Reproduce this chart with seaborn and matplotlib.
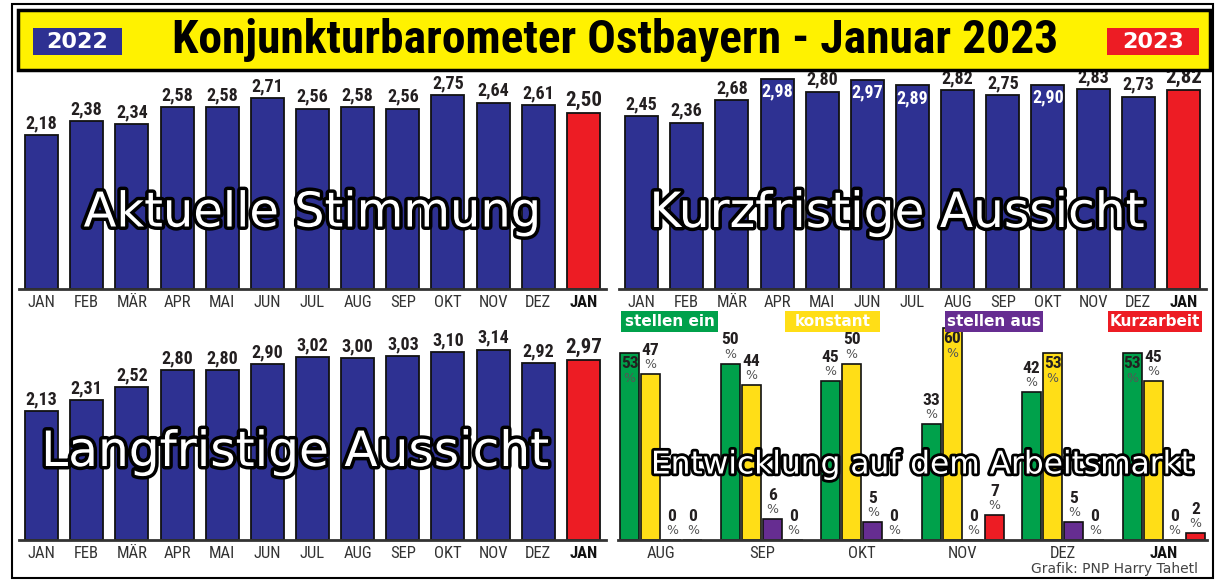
import matplotlib
matplotlib.use("Agg")
import matplotlib.pyplot as plt
import matplotlib.patheffects as pe
from matplotlib.patches import Rectangle
from matplotlib import font_manager as fm
import seaborn as sns
import pandas as pd
import numpy as np

# ---------------- data ----------------
months = ["JAN", "FEB", "MÄR", "APR", "MAI", "JUN", "JUL", "AUG", "SEP", "OKT", "NOV", "DEZ", "JAN"]
aktuelle = [2.18, 2.38, 2.34, 2.58, 2.58, 2.71, 2.56, 2.58, 2.56, 2.75, 2.64, 2.61, 2.50]
kurzfristig = [2.45, 2.36, 2.68, 2.98, 2.80, 2.97, 2.89, 2.82, 2.75, 2.90, 2.83, 2.73, 2.82]
langfristig = [2.13, 2.31, 2.52, 2.80, 2.80, 2.90, 3.02, 3.00, 3.03, 3.10, 3.14, 2.92, 2.97]

arb_months = ["AUG", "SEP", "OKT", "NOV", "DEZ", "JAN"]
arb_categories = ["stellen ein", "konstant", "stellen aus", "Kurzarbeit"]
stellen_ein = [53, 50, 45, 33, 42, 53]
konstant = [47, 44, 50, 60, 53, 45]
stellen_aus = [0, 6, 5, 0, 5, 0]
kurzarbeit = [0, 0, 0, 7, 0, 2]

# ---------------- style ----------------
NAVY = "#2E3192"
RED = "#ED1C24"
GREEN = "#00A14B"
YELLOW = "#FFDE17"
PURPLE = "#662D91"
BAND = "#FFF200"
DARK = "#231F20"


def pick_font(cands, default="DejaVu Sans"):
    for c in cands:
        try:
            fm.findfont(fm.FontProperties(family=c), fallback_to_default=False)
            return c
        except Exception:
            pass
    return default


NARROW = pick_font(["Liberation Sans Narrow", "DejaVu Sans Condensed", "Roboto Condensed"])
HAS_NARROW = NARROW != "DejaVu Sans"

sns.set_style("white")
plt.rcParams["font.family"] = ["DejaVu Sans"]

W, H = 1217, 581
fig = plt.figure(figsize=(W / 100, H / 100), dpi=100)


def R(x0, y0, x1, y1):
    return [x0 / W, 1 - y1 / H, (x1 - x0) / W, (y1 - y0) / H]


def FX(x):
    return x / W


def FY(y):
    return 1 - y / H


def fmt(v):
    return f"{v:.2f}".replace(".", ",")


def style_axis(ax, labels, n):
    for s in ["top", "right", "left"]:
        ax.spines[s].set_visible(False)
    ax.spines["bottom"].set_color("#333333")
    ax.spines["bottom"].set_linewidth(2)
    ax.set_yticks([])
    ax.set_ylabel("")
    ax.set_xlabel("")
    ax.set_xticks(range(n))
    ax.set_xticklabels(labels, family=[NARROW, "DejaVu Sans"], fontsize=12 if HAS_NARROW else 10.5,
                       color="#333333")
    ax.get_xticklabels()[-1].set_fontweight("bold")
    ax.get_xticklabels()[-1].set_color("#111111")
    ax.tick_params(axis="x", which="major", length=0, pad=4)
    ax.set_xticks(np.arange(-0.5, n, 1.0), minor=True)
    ax.tick_params(axis="x", which="minor", direction="in", length=4, width=1.3, color="#333333")
    ax.set_xlim(-0.5, n - 0.5)
    ax.patch.set_alpha(0)


def big_label(x, y, text, size, stroke=5):
    fig.text(FX(x), FY(y), text, ha="center", va="center", fontsize=size, color="white", zorder=10,
             path_effects=[pe.withStroke(linewidth=stroke, foreground="black")])


def month_panel(rect, values, ymax, title, title_xy, title_size, inside_thr=None):
    ax = fig.add_axes(R(*rect))
    n = len(values)
    df = pd.DataFrame({"pos": list(range(n)), "val": values})
    cols = [NAVY] * (n - 1) + [RED]
    sns.barplot(data=df, x="pos", y="val", hue="pos", palette=cols, legend=False, saturation=1,
                width=0.73, edgecolor="#111111", linewidth=1.3, ax=ax)
    ax.set_ylim(0, ymax)
    style_axis(ax, months, n)
    for i, v in enumerate(values):
        last = i == n - 1
        fs = 15 if last else 13
        if inside_thr is not None and v >= inside_thr and not last:
            ax.annotate(fmt(v), (i, v), xytext=(0, -4), textcoords="offset pixels",
                        ha="center", va="top", fontsize=fs, fontweight="bold", color="white",
                        family=[NARROW, "DejaVu Sans"])
        else:
            ax.annotate(fmt(v), (i, v), xytext=(0, 3), textcoords="offset pixels",
                        ha="center", va="bottom", fontsize=fs, fontweight="bold", color=DARK,
                        family=[NARROW, "DejaVu Sans"])
    big_label(title_xy[0], title_xy[1], title, title_size)
    return ax


# top-left / top-right / bottom-left
month_panel((19, 75, 606, 289), aktuelle, 214 / 70.5, "Aktuelle Stimmung", (312, 213), 34.5)
month_panel((619, 75, 1206, 289), kurzfristig, 214 / 70.5, "Kurzfristige Aussicht", (897, 213), 35,
            inside_thr=2.85)
month_panel((19, 305, 606, 540), langfristig, 235 / 60.6, "Langfristige Aussicht", (295, 452), 35)

# bottom-right grouped bars
ax4 = fig.add_axes(R(618, 313, 1207, 540))
series = [stellen_ein, konstant, stellen_aus, kurzarbeit]
rows = []
for cat, vals in zip(arb_categories, series):
    for m, v in zip(arb_months, vals):
        rows.append({"Monat": m, "Anteil": v, "Kategorie": cat})
df4 = pd.DataFrame(rows)
sns.barplot(data=df4, x="Monat", y="Anteil", hue="Kategorie", order=arb_months,
            hue_order=arb_categories, palette=[GREEN, YELLOW, PURPLE, RED], width=0.84,
            gap=0.1, saturation=1, edgecolor="#111111", linewidth=1.2, legend=False, ax=ax4)
ax4.set_ylim(0, 227 / 3.53)
style_axis(ax4, arb_months, len(arb_months))
ax4.set_xlim(-0.43, 5.43)
ax4.tick_params(axis="x", which="minor", length=0)
for cont, vals in zip(ax4.containers, series):
    for p, v in zip(cont.patches, vals):
        xc = p.get_x() + p.get_width() / 2
        if v >= 53:
            ax4.annotate(str(v), (xc, v), xytext=(0, -3), textcoords="offset pixels", ha="center",
                         va="top", fontsize=12.5, fontweight="bold", color=DARK,
                         family=[NARROW, "DejaVu Sans"], zorder=5)
            ax4.annotate("%", (xc, v), xytext=(0, -19), textcoords="offset pixels", ha="center",
                         va="top", fontsize=9, color="#555555", zorder=5)
        else:
            ax4.annotate("%", (xc, v), xytext=(0, 3), textcoords="offset pixels", ha="center",
                         va="bottom", fontsize=9, color="#555555", zorder=5)
            ax4.annotate(str(v), (xc, v), xytext=(0, 16), textcoords="offset pixels", ha="center",
                         va="bottom", fontsize=12.5, fontweight="bold", color=DARK,
                         family=[NARROW, "DejaVu Sans"], zorder=5)
big_label(922, 465, "Entwicklung auf dem Arbeitsmarkt", 22.5, stroke=4)

# legend boxes
for (x0, x1), label, col in zip([(621, 718), (785, 880), (945, 1043), (1108, 1202)],
                                arb_categories, [GREEN, YELLOW, PURPLE, RED]):
    fig.patches.append(Rectangle((FX(x0), FY(332)), FX(x1 - x0), (332 - 311) / H,
                                 transform=fig.transFigure, facecolor=col, edgecolor="none", zorder=8))
    fig.text(FX((x0 + x1) / 2), FY(321.5), label, ha="center", va="center", color="white",
             fontsize=11, fontweight="bold", zorder=9)

# frame and title band
fig.patches.append(Rectangle((FX(12), FY(578)), FX(1213 - 12), (578 - 4) / H, transform=fig.transFigure,
                             facecolor="none", edgecolor="black", linewidth=1.5, zorder=1))
fig.patches.append(Rectangle((FX(18), FY(70)), FX(1210 - 18), (70 - 10) / H, transform=fig.transFigure,
                             facecolor=BAND, edgecolor="black", linewidth=2.5, zorder=2))
fig.patches.append(Rectangle((FX(33), FY(55)), FX(122 - 33), 27 / H, transform=fig.transFigure,
                             facecolor=NAVY, edgecolor="none", zorder=3))
fig.patches.append(Rectangle((FX(1107), FY(55)), FX(1199 - 1107), 27 / H, transform=fig.transFigure,
                             facecolor=RED, edgecolor="none", zorder=3))
fig.text(FX(77.5), FY(41.5), "2022", ha="center", va="center", color="white", fontsize=16,
         fontweight="bold", zorder=4)
fig.text(FX(1153), FY(41.5), "2023", ha="center", va="center", color="white", fontsize=16,
         fontweight="bold", zorder=4)
fig.text(FX(615), FY(40), "Konjunkturbarometer Ostbayern - Januar 2023", ha="center", va="center",
         fontsize=34.2 if HAS_NARROW else 24, fontweight="bold", color="black",
         family=[NARROW, "DejaVu Sans"], zorder=4)

fig.text(FX(1198), FY(569), "Grafik: PNP Harry Tahetl", ha="right", va="center", fontsize=10,
         color="#444444")

fig.savefig("out.png", dpi=100, facecolor="white")
